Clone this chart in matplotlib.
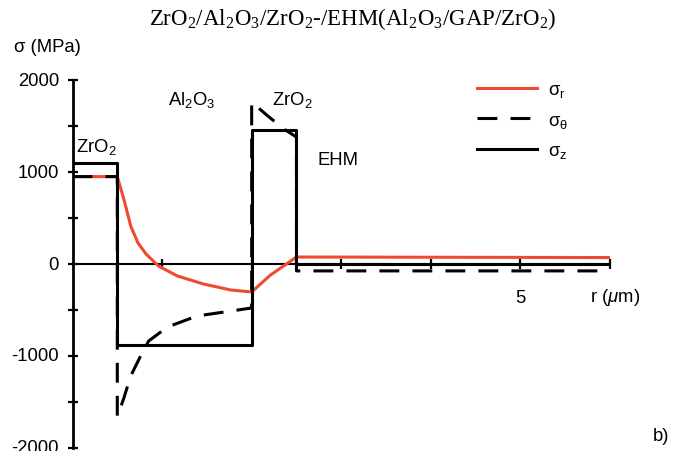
import numpy as np
import matplotlib
matplotlib.use('Agg')
import matplotlib.pyplot as plt

plt.rcParams['font.family'] = ['Liberation Sans', 'DejaVu Sans']
plt.rcParams['mathtext.fontset'] = 'custom'
plt.rcParams['mathtext.rm'] = 'Liberation Serif'
plt.rcParams['mathtext.sf'] = 'Liberation Sans'
plt.rcParams['mathtext.it'] = 'Liberation Sans:italic'
plt.rcParams['axes.unicode_minus'] = False

RED = '#ee4a2f'
FS = 13.3
LW = 2.2
DASH = (6.5, 4.3)

# layer boundaries (um)
BOUNDS = [0, 0.5, 2.0, 2.5, 6.0]

# sigma_r (continuous)
r_sr = [0.0, 0.5, 0.58, 0.65, 0.73, 0.82, 0.96, 1.17, 1.46, 1.77, 2.0, 2.21, 2.5, 6.0]
sr = [950, 950, 680, 413, 230, 109, -22, -130, -217, -283, -304, -120, 76, 70]

# sigma_theta (jumps at the interfaces)
r_st = [0.0, 0.5, 0.5, 0.57, 0.65, 0.76, 0.85, 1.06, 1.39, 1.77, 2.0,
        2.0, 2.18, 2.36, 2.5, 2.5, 6.0]
st = [950, 950, -1660, -1467, -1217, -1000, -837, -685, -565, -511, -478,
      1760, 1609, 1467, 1380, -75, -75]

# sigma_z (constant in each layer)
r_sz = [0.0, 0.5, 0.5, 2.0, 2.0, 2.5, 2.5, 6.0]
sz = [1100, 1100, -880, -880, 1460, 1460, 0, 0]

yticks = [-2000, -1500, -1000, -500, 0, 500, 1000, 1500, 2000]
ylabels = ['-2000', '', '-1000', '', '0', '', '1000', '', '2000']
xticks = [1, 2, 3, 4, 5, 6]
xlabels = ['', '', '', '', '5', '']

fig = plt.figure(figsize=(6.95, 4.52), dpi=100)
ax = fig.add_axes([72.5 / 695, 3 / 452, 537.5 / 695, 368 / 452])

ax.plot(r_sr, sr, color=RED, lw=LW, label=r'σ$_\mathsf{r}$')
ax.plot(r_st, st, color='black', lw=LW, dashes=DASH, label=r'σ$_\mathsf{\theta}$')
ax.plot(r_sz, sz, color='black', lw=LW, label=r'σ$_\mathsf{z}$')

ax.set_xlim(0, 6.0)
ax.set_ylim(-2000, 2000)
for s in ['top', 'right']:
    ax.spines[s].set_visible(False)
ax.spines['bottom'].set_position(('data', 0))
ax.spines['bottom'].set_linewidth(1.5)
ax.spines['left'].set_linewidth(2.0)
ax.spines['bottom'].set_zorder(1)

ax.set_yticks(yticks)
ax.set_yticklabels(ylabels, fontsize=FS)
ax.set_xticks(xticks)
ax.set_xticklabels(xlabels, fontsize=FS)
ax.tick_params(axis='y', direction='inout', length=6.5, width=1.6, pad=6.5)
ax.tick_params(axis='x', direction='inout', length=6.5, width=1.6, pad=15)
for lab in ax.get_yticklabels():
    lab.set_verticalalignment('center')

# layer names
ax.text(0.04, 1170, r'ZrO$_\mathsf{2}$', fontsize=FS, ha='left', va='bottom')
ax.text(1.07, 1790, r'Al$_\mathsf{2}$O$_\mathsf{3}$', fontsize=FS, ha='left', va='center')
ax.text(2.23, 1790, r'ZrO$_\mathsf{2}$', fontsize=FS, ha='left', va='center')
ax.text(2.74, 1140, 'EHM', fontsize=FS, ha='left', va='center')

fig.text(590 / 695, 1 - 298 / 452, r'r ($\mu$m)', fontsize=FS, ha='left', va='center')
fig.text(14 / 695, 1 - 47 / 452, 'σ (MPa)', fontsize=FS, ha='left', va='center')
fig.text(653 / 695, 1 - 437 / 452, 'b)', fontsize=FS, ha='left', va='center')

fig.text(353 / 695, 1 - 19 / 452,
         r'ZrO$_\mathrm{2}$/Al$_\mathrm{2}$O$_\mathrm{3}$/ZrO$_\mathrm{2}$-/EHM(Al$_\mathrm{2}$O$_\mathrm{3}$/GAP/ZrO$_\mathrm{2}$)',
         fontsize=16.5, family='Liberation Serif', ha='center', va='center')

leg = ax.legend(loc='upper left', bbox_to_anchor=(477 / 695, 1 - 82 / 452),
                bbox_transform=fig.transFigure, frameon=False, fontsize=FS,
                handlelength=3.25, handletextpad=0.6, labelspacing=0.68,
                borderpad=0, borderaxespad=0)

fig.savefig('out.png', dpi=100)
